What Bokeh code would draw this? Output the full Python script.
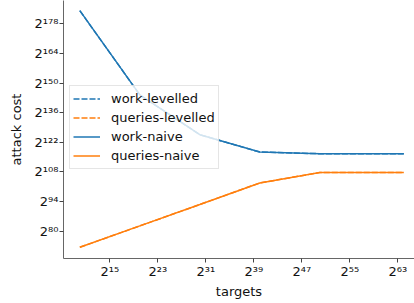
from bokeh.plotting import figure
from bokeh.models import FixedTicker, Legend, LegendItem, Range1d
from bokeh.embed import file_html
from bokeh.resources import INLINE

# ---- data (log2 units) ----
targets_log2 = [10, 20, 30, 40, 50, 64]
work_levelled = [184.2, 144.4, 125.6, 117.4, 116.6, 116.6]
queries_levelled = [72.4, 82.5, 92.6, 102.8, 107.7, 107.7]
work_naive = [184.2, 144.4, 125.6, 117.4, 116.6, 116.6]
queries_naive = [72.4, 82.5, 92.6, 102.8, 107.7, 107.7]

x_ticks = [15, 23, 31, 39, 47, 55, 63]
y_ticks = [80, 94, 108, 122, 136, 150, 164, 178]

SUP = str.maketrans("0123456789", "⁰¹²³⁴⁵⁶⁷⁸⁹")
def pow2(n):
    return "2" + str(n).translate(SUP)

BLUE = "#1f77b4"
ORANGE = "#ff7f0e"
FONT = "DejaVu Sans"

p = figure(width=414, height=303, output_backend="svg", toolbar_location=None,
           x_range=Range1d(7.28, 65.78), y_range=Range1d(67.1, 189.0),
           min_border_left=63, min_border_right=0, min_border_top=0,
           min_border_bottom=45)
p.background_fill_color = "white"
p.border_fill_color = "white"
p.outline_line_color = None
p.grid.visible = False

r_wl = p.line(targets_log2, work_levelled, color=BLUE, line_width=1.5, line_dash="6 2")
r_ql = p.line(targets_log2, queries_levelled, color=ORANGE, line_width=1.5, line_dash="6 2")
r_wn = p.line(targets_log2, work_naive, color=BLUE, line_width=1.5)
r_qn = p.line(targets_log2, queries_naive, color=ORANGE, line_width=1.5)

for ax, ticks in ((p.xaxis[0], x_ticks), (p.yaxis[0], y_ticks)):
    ax.ticker = FixedTicker(ticks=ticks)
    ax.major_label_overrides = {t: pow2(t) for t in ticks}
    ax.minor_tick_line_color = None
    ax.major_tick_in = 0
    ax.major_tick_out = 4
    ax.major_tick_line_color = "#444444"
    ax.axis_line_color = "#666666"
    ax.major_label_text_font = FONT
    ax.major_label_text_font_size = "13px"
    ax.major_label_text_color = "#111111"
    ax.axis_label_text_font = FONT
    ax.axis_label_text_font_size = "13px"
    ax.axis_label_text_font_style = "normal"
    ax.axis_label_text_color = "#111111"
    ax.major_label_standoff = 1

p.xaxis.axis_label = "targets"
p.yaxis.axis_label = "attack cost"
p.xaxis.axis_label_standoff = 2
p.yaxis.axis_label_standoff = 8

legend = Legend(items=[
    LegendItem(label="work-levelled", renderers=[r_wl]),
    LegendItem(label="queries-levelled", renderers=[r_ql]),
    LegendItem(label="work-naive", renderers=[r_wn]),
    LegendItem(label="queries-naive", renderers=[r_qn]),
], location=(6, 89))
legend.label_text_font = FONT
legend.label_text_font_size = "13px"
legend.label_text_color = "#111111"
legend.glyph_width = 27
legend.glyph_height = 19
legend.label_height = 19
legend.label_standoff = 11
legend.padding = 3
legend.spacing = 0
legend.margin = 0
legend.background_fill_color = "white"
legend.background_fill_alpha = 0.8
legend.border_line_color = "#cccccc"
legend.border_line_width = 1
p.add_layout(legend, "center")

open("out.html", "w").write(file_html(p, INLINE))
